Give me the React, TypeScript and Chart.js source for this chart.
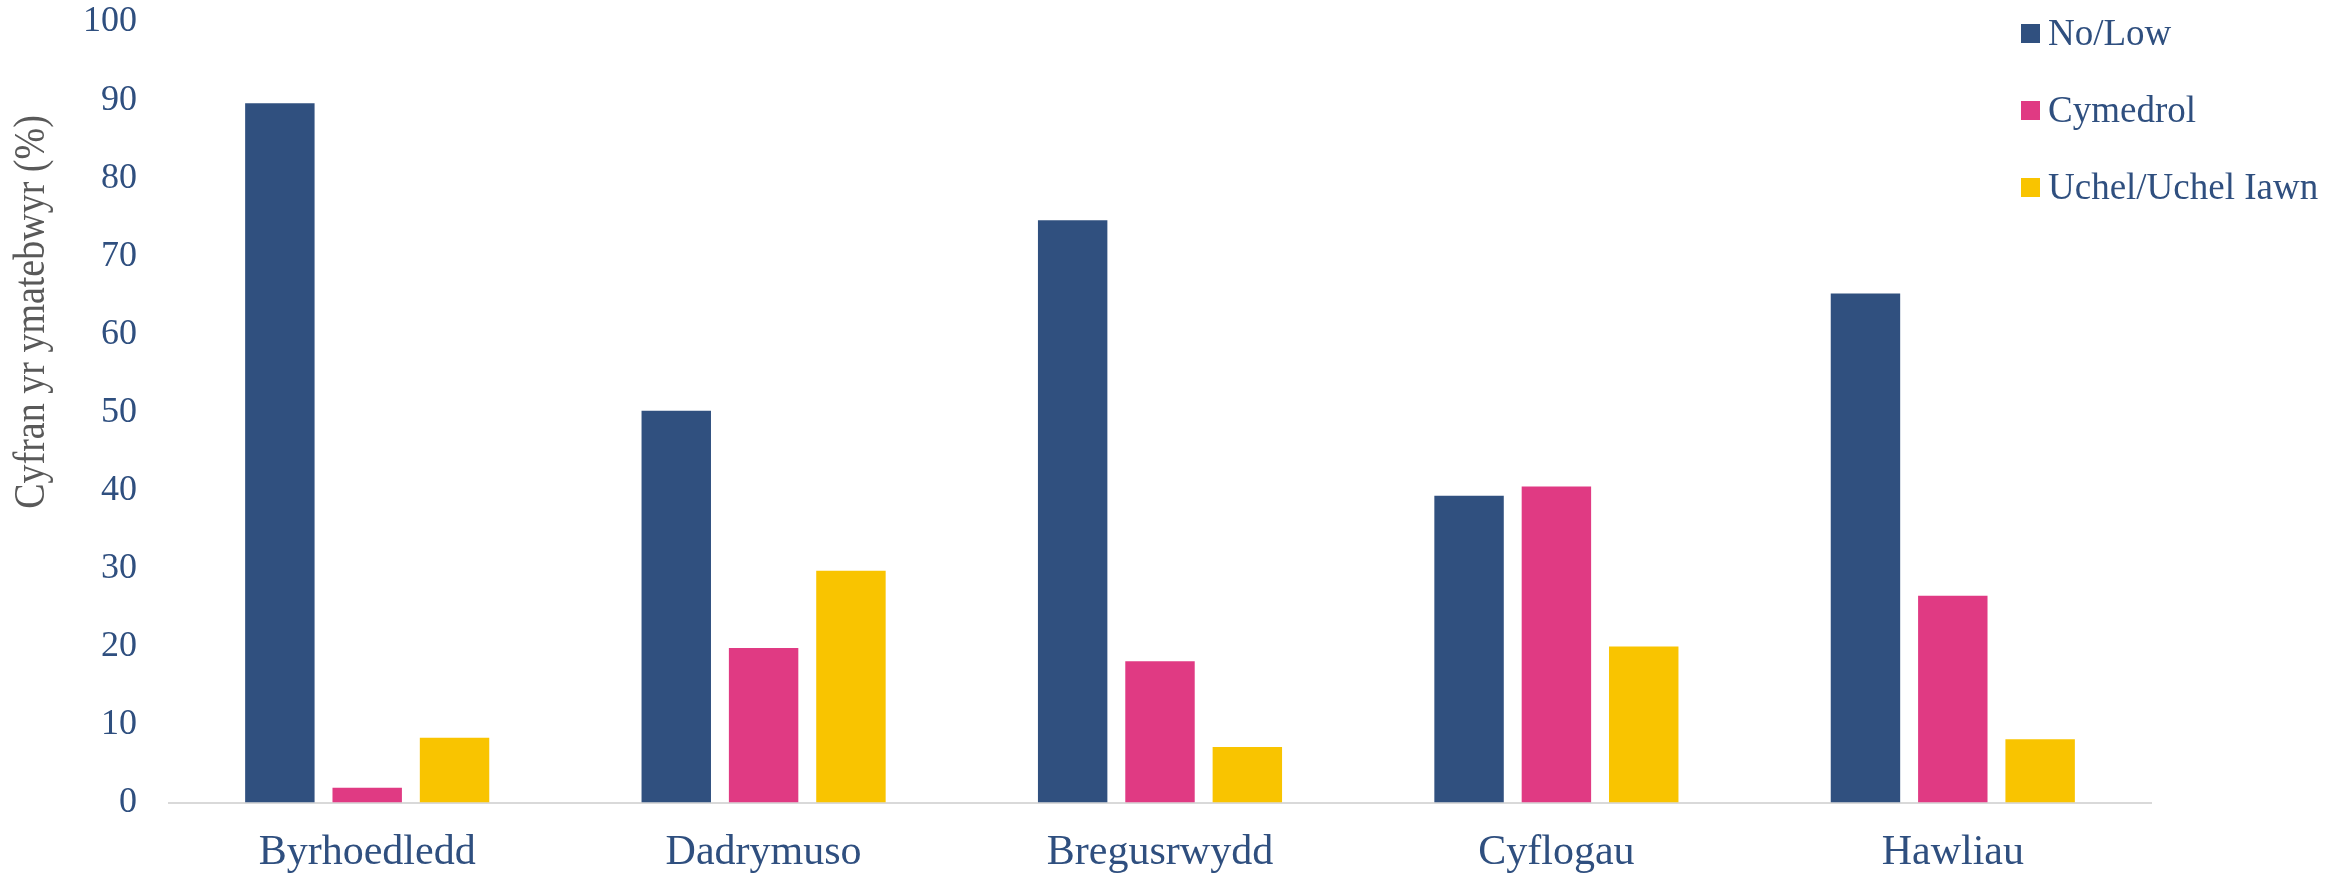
import React, { useEffect, useRef } from "react";
import { Chart, registerables } from "chart.js";

Chart.register(...registerables);

const categories = ["Byrhoedledd", "Dadrymuso", "Bregusrwydd", "Cyflogau", "Hawliau"];
const seriesNames = ["No/Low", "Cymedrol", "Uchel/Uchel Iawn"];
const noLow = [89.6, 50.2, 74.6, 39.3, 65.2];
const cymedrol = [1.9, 19.8, 18.1, 40.5, 26.5];
const uchel = [8.3, 29.7, 7.1, 20.0, 8.1];
const yTicks = [0, 10, 20, 30, 40, 50, 60, 70, 80, 90, 100];
const yTitle = "Cyfran yr ymatebwyr (%)";

const colors = ["#30507F", "#E03A83", "#F9C400"];
const textBlue = "#2F4F7F";
const serif = '"Liberation Serif", "Times New Roman", serif';

const yTitlePlugin = {
  id: "yTitlePlugin",
  afterDraw(chart: any) {
    const ctx = chart.ctx;
    ctx.save();
    ctx.translate(33, 312);
    ctx.rotate(-Math.PI / 2);
    ctx.scale(1, 1.15);
    ctx.font = `38px ${serif}`;
    ctx.fillStyle = "#595959";
    ctx.textAlign = "center";
    ctx.textBaseline = "middle";
    ctx.fillText(yTitle, 0, 0);
    ctx.restore();
  },
};

export default function App() {
  const canvasRef = useRef<HTMLCanvasElement | null>(null);

  useEffect(() => {
    if (!canvasRef.current) return;
    const chart = new Chart(canvasRef.current, {
      type: "bar",
      data: {
        labels: categories,
        datasets: [noLow, cymedrol, uchel].map((d, i) => ({
          label: seriesNames[i],
          data: d,
          backgroundColor: colors[i],
          borderWidth: 0,
          categoryPercentage: 0.661,
          barPercentage: 0.795,
        })),
      },
      options: {
        animation: false,
        responsive: true,
        maintainAspectRatio: false,
        layout: { padding: { top: 22, right: 200, bottom: 0, left: 0 } },
        plugins: {
          legend: { display: false },
          tooltip: { enabled: false },
        },
        scales: {
          x: {
            grid: { display: false, drawTicks: false },
            border: { display: true, color: "#D9D9D9", width: 2 },
            afterFit: (scale: any) => {
              scale.height = 74.5;
              scale.paddingLeft = 0;
              scale.paddingRight = 0;
            },
            ticks: {
              color: textBlue,
              padding: 25,
              font: { family: serif, size: 42 },
              maxRotation: 0,
              autoSkip: false,
            },
          },
          y: {
            min: 0,
            max: 100,
            grid: { display: false, drawTicks: false },
            border: { display: false },
            afterFit: (scale: any) => {
              scale.width = 169;
              scale.paddingTop = 0;
              scale.paddingBottom = 0;
            },
            afterBuildTicks: (scale: any) => {
              scale.ticks = yTicks.map((v) => ({ value: v }));
            },
            ticks: {
              color: textBlue,
              padding: 32,
              font: { family: serif, size: 36 },
            },
          },
        },
      },
      plugins: [yTitlePlugin],
    });
    return () => chart.destroy();
  }, []);

  return (
    <div style={{ position: "absolute", left: 0, top: 0, width: 2351, height: 877, background: "#fff" }}>
      <canvas ref={canvasRef} />
      {seriesNames.map((name, i) => (
        <div
          key={name}
          style={{
            position: "absolute",
            left: 2021,
            top: 33 + i * 77 - 25,
            height: 50,
            display: "flex",
            alignItems: "center",
            whiteSpace: "nowrap",
          }}
        >
          <span style={{ display: "inline-block", width: 19, height: 19, background: colors[i], marginRight: 8 }} />
          <span style={{ fontFamily: serif, fontSize: 37, lineHeight: "50px", color: textBlue }}>{name}</span>
        </div>
      ))}
    </div>
  );
}
